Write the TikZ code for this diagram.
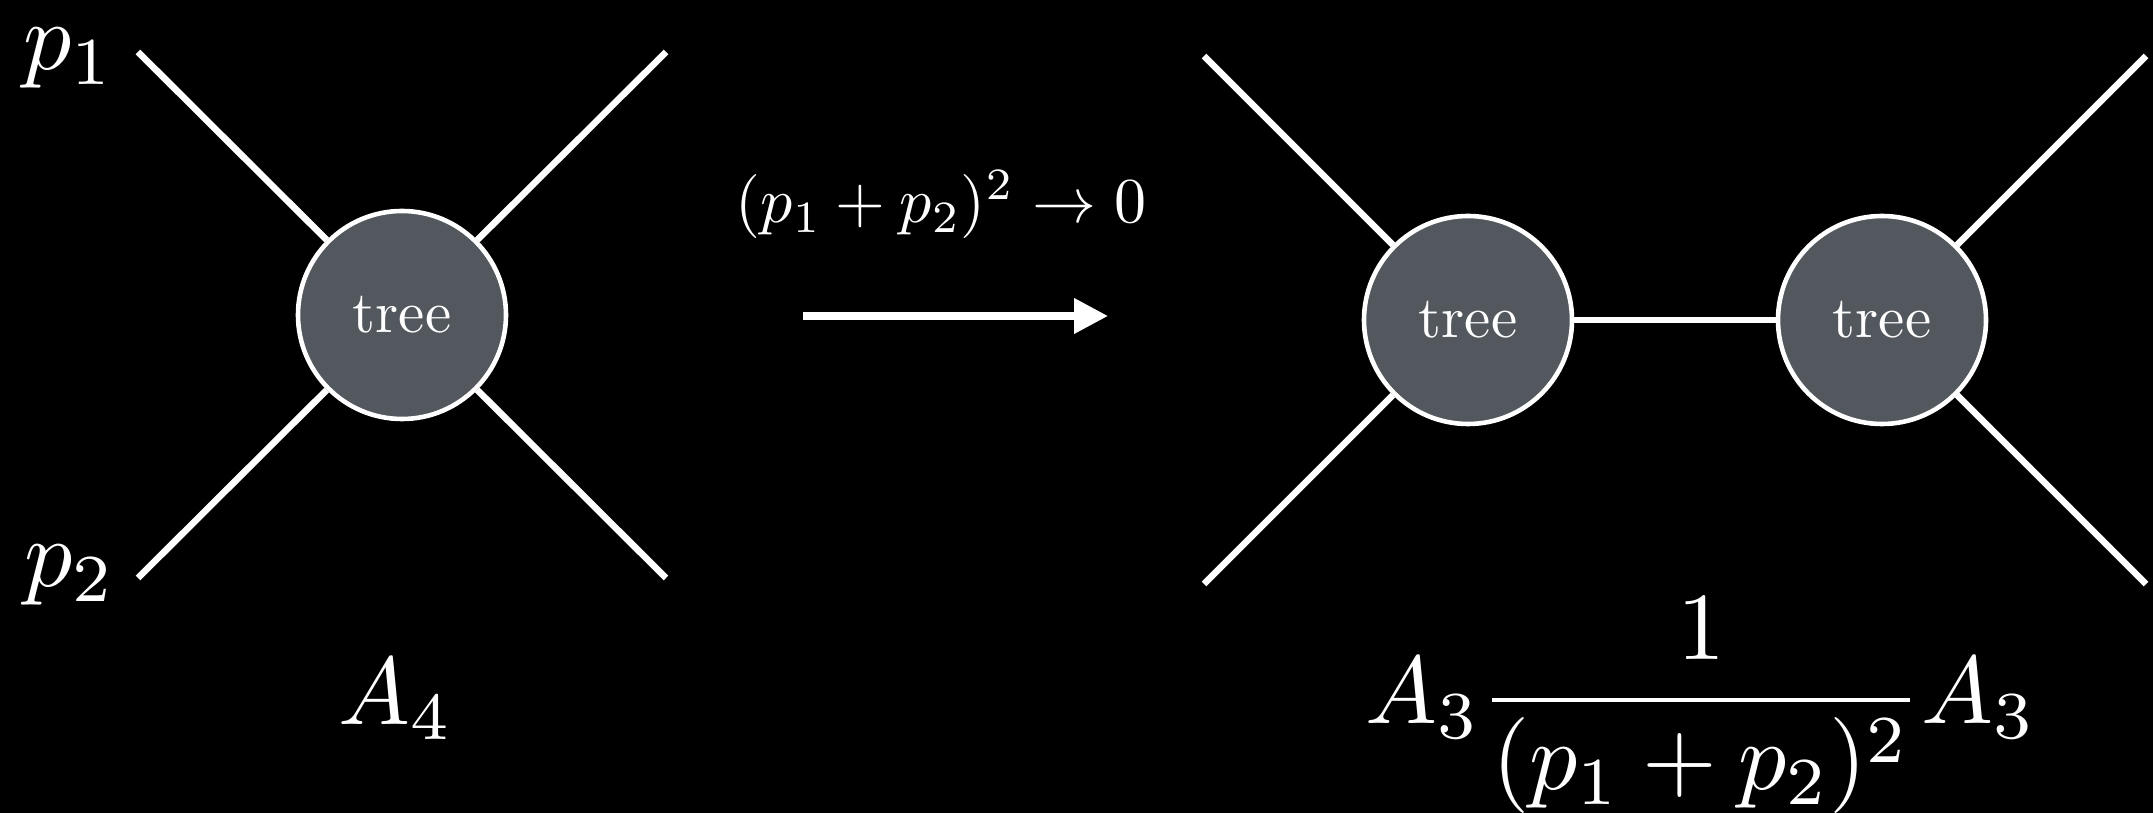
\documentclass[tikz,border=0pt]{standalone}
\usepackage{graphicx}
\usepackage{amsmath}
\usetikzlibrary{arrows.meta}
\definecolor{blobgray}{RGB}{83,87,94}
\newcommand{\bigmathlbl}[1]{\scalebox{4.8}{#1}}
\newcommand{\midmathlbl}[1]{\scalebox{3.2}{#1}}
\newcommand{\treetxt}{\scalebox{2.95}{tree}}
\begin{document}
\begin{tikzpicture}[x=0.5pt,y=0.5pt,
  blob/.style={circle,draw=white,line width=2.3pt,fill=blobgray,minimum size=104pt,inner sep=0pt,text=white},
  leg/.style={draw=white,line width=3.3pt},
  lbl/.style={text=white,inner sep=0pt,anchor=base}]
\fill[black] (0,0) rectangle (2153,813);
\useasboundingbox (0,0) rectangle (2153,813);
\clip (0,0) rectangle (2153,813);

% left diagram
\coordinate (ltl) at (138,761);
\coordinate (ltr) at (666,761);
\coordinate (lbl) at (138,235);
\coordinate (lbr) at (666,235);
\node[blob] (c) at (402,498) {\treetxt};
\draw[leg] (ltl) -- (c);
\draw[leg] (ltr) -- (c);
\draw[leg] (lbl) -- (c);
\draw[leg] (lbr) -- (c);
\node[lbl] (p1) at (69,743) {\bigmathlbl{$p_1$}};
\node[lbl] (p2) at (70,226) {\bigmathlbl{$p_2$}};
\node[lbl] (a4) at (396,88) {\bigmathlbl{$A_4$}};

% arrow
\coordinate (as) at (803,497);
\coordinate (ae) at (1108,497);
\draw[white,line width=3.6pt,-{Triangle[length=17pt,width=17pt]}] (as) -- (ae);
\node[lbl] (lim) at (941,590) {\midmathlbl{$(p_1+p_2)^2\to 0$}};

% right diagram
\coordinate (rtl) at (1204,757);
\coordinate (rbl) at (1204,229);
\coordinate (rtr) at (2146,757);
\coordinate (rbr) at (2146,229);
\node[blob] (c1) at (1468,493) {\treetxt};
\node[blob] (c2) at (1882,493) {\treetxt};
\draw[leg] (rtl) -- (c1);
\draw[leg] (rbl) -- (c1);
\draw[leg] (rtr) -- (c2);
\draw[leg] (rbr) -- (c2);
\draw[leg] (c1) -- (c2);
\node[lbl] (f) at (1701,89) {\bigmathlbl{$\displaystyle A_3\frac{1}{(p_1+p_2)^2}A_3$}};
\end{tikzpicture}
\end{document}
